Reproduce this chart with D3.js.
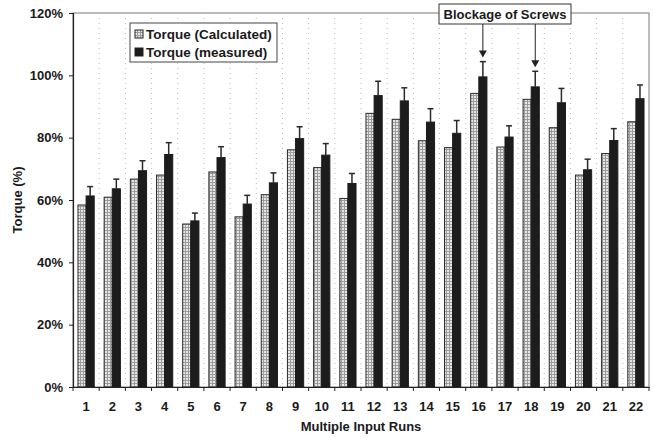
<!DOCTYPE html>
<html><head><meta charset="utf-8">
<script src="https://cdn.jsdelivr.net/npm/d3@7"></script>
<style>body{margin:0;background:#fff}svg{display:block}text{font-family:Arial,"Liberation Sans",sans-serif;font-weight:bold;fill:#1a1a1a}</style>
</head><body><svg id="c" width="655" height="438"></svg>
<script>
const runs = ["1","2","3","4","5","6","7","8","9","10","11","12","13","14","15","16","17","18","19","20","21","22"];
const calculated = [58.4,60.9,66.7,68.0,52.3,69.0,54.6,61.7,76.1,70.4,60.5,87.8,85.9,79.0,76.8,94.2,77.0,92.3,83.2,68.0,74.9,85.1];
const measured = [61.3,63.6,69.4,74.6,53.3,73.6,58.7,65.5,79.7,74.4,65.3,93.5,91.8,85.0,81.4,99.5,80.2,96.3,91.2,69.7,79.1,92.5];
const measuredErr = [3.0,3.1,3.2,3.8,2.5,3.5,2.8,3.2,3.8,3.7,3.2,4.6,4.2,4.3,4.1,4.9,3.6,5.0,4.6,3.4,3.8,4.4];
const yTicks = [0,20,40,60,80,100,120];
const seriesNames = ["Torque (Calculated)","Torque (measured)"];
const annotationText = "Blockage of Screws";
const annotatedRuns = ["16","18"];

const svg = d3.select("#c");
const m = {l:73, r:6, t:13, b:51};
const W = 655, H = 438;
const x = d3.scaleBand().domain(runs).range([m.l, W - m.r]).paddingInner(0).paddingOuter(0);
const y = d3.scaleLinear().domain([0,120]).range([H - m.b, m.t]);

const defs = svg.append("defs");
const pat = defs.append("pattern").attr("id","dots").attr("width",3).attr("height",3).attr("patternUnits","userSpaceOnUse");
pat.append("rect").attr("width",3).attr("height",3).attr("fill","#9c9c9c");
pat.append("rect").attr("x",0).attr("y",0).attr("width",2).attr("height",2).attr("fill","#e6e6e6");

// plot border
svg.append("rect").attr("x",m.l).attr("y",m.t).attr("width",W-m.r-m.l).attr("height",y(0)-m.t)
  .attr("fill","none").attr("stroke","#777").attr("stroke-width",1);

// vertical dotted gridlines at category boundaries
const bounds = runs.slice(1).map(r => x(r));
svg.append("g").selectAll("line").data(bounds).join("line")
  .attr("x1",d=>d).attr("x2",d=>d).attr("y1",m.t).attr("y2",y(0))
  .attr("stroke","#bbb").attr("stroke-dasharray","1,4").attr("stroke-width",1);

const bw = x.bandwidth()*0.31;
const g = svg.append("g");
runs.forEach((r,i)=>{
  const cx = x(r) + x.bandwidth()/2;
  g.append("rect").attr("x",cx-bw).attr("y",y(calculated[i])).attr("width",bw).attr("height",y(0)-y(calculated[i]))
    .attr("fill","url(#dots)").attr("stroke","#2a2a2a").attr("stroke-width",1);
  g.append("rect").attr("x",cx).attr("y",y(measured[i])).attr("width",bw).attr("height",y(0)-y(measured[i]))
    .attr("fill","#1c1c1c").attr("stroke","#1c1c1c").attr("stroke-width",1);
  const ex = cx + bw/2, top = y(measured[i]+measuredErr[i]);
  g.append("line").attr("x1",ex).attr("x2",ex).attr("y1",y(measured[i])).attr("y2",top).attr("stroke","#2a2a2a").attr("stroke-width",1.5);
  g.append("line").attr("x1",ex-3).attr("x2",ex+3).attr("y1",top).attr("y2",top).attr("stroke","#2a2a2a").attr("stroke-width",1.5);
});

// axes
const yAxis = d3.axisLeft(y).tickValues(yTicks).tickFormat(d=>d+"%").tickSize(4).tickPadding(6);
const ya = svg.append("g").attr("transform",`translate(${m.l},0)`).call(yAxis);
ya.select(".domain").attr("stroke","#222").attr("stroke-width",1.2);
ya.selectAll(".tick line").attr("stroke","#222");
ya.selectAll("text").style("font-size","13px").style("font-weight","bold").attr("fill","#1a1a1a");

const xa = svg.append("g").attr("transform",`translate(0,${y(0)})`)
  .call(d3.axisBottom(x).tickSize(0).tickPadding(15));
xa.select(".domain").attr("stroke","#222").attr("stroke-width",1.2);
xa.selectAll("text").style("font-size","13px").style("font-weight","bold").attr("fill","#1a1a1a");
svg.append("g").selectAll("line").data([m.l, ...bounds, W-m.r]).join("line")
  .attr("x1",d=>d).attr("x2",d=>d).attr("y1",y(0)).attr("y2",y(0)+4).attr("stroke","#222");

svg.append("text").attr("transform",`translate(22,${(m.t+y(0))/2}) rotate(-90)`).attr("text-anchor","middle")
  .style("font-size","13px").text("Torque (%)");
svg.append("text").attr("x",(m.l+W-m.r)/2).attr("y",431).attr("text-anchor","middle")
  .style("font-size","13px").text("Multiple Input Runs");

// legend
const lg = svg.append("g");
lg.append("rect").attr("x",130).attr("y",23).attr("width",147).attr("height",39).attr("fill","#fff").attr("stroke","#444");
seriesNames.forEach((s,i)=>{
  const yy = 35 + i*18;
  lg.append("rect").attr("x",135).attr("y",yy-5).attr("width",8).attr("height",8)
    .attr("fill", i===0 ? "url(#dots)" : "#1c1c1c").attr("stroke","#222");
  lg.append("text").attr("x",146).attr("y",yy+4).style("font-size","13.5px").text(s);
});

// annotation
const ag = svg.append("g");
ag.append("rect").attr("x",439).attr("y",4).attr("width",132).attr("height",20).attr("fill","#fff").attr("stroke","#333");
ag.append("text").attr("x",505).attr("y",19).attr("text-anchor","middle").style("font-size","13px").text(annotationText);
annotatedRuns.forEach((r,k)=>{
  const i = runs.indexOf(r);
  const ax = x(r) + x.bandwidth()/2 + bw/2;
  const tip = y(measured[i]+measuredErr[i]) - 4;
  ag.append("line").attr("x1",ax).attr("x2",ax).attr("y1",24).attr("y2",tip-6).attr("stroke","#222").attr("stroke-width",1);
  ag.append("path").attr("d",`M${ax-4},${tip-7}L${ax+4},${tip-7}L${ax},${tip}Z`).attr("fill","#222");
});
</script></body></html>
